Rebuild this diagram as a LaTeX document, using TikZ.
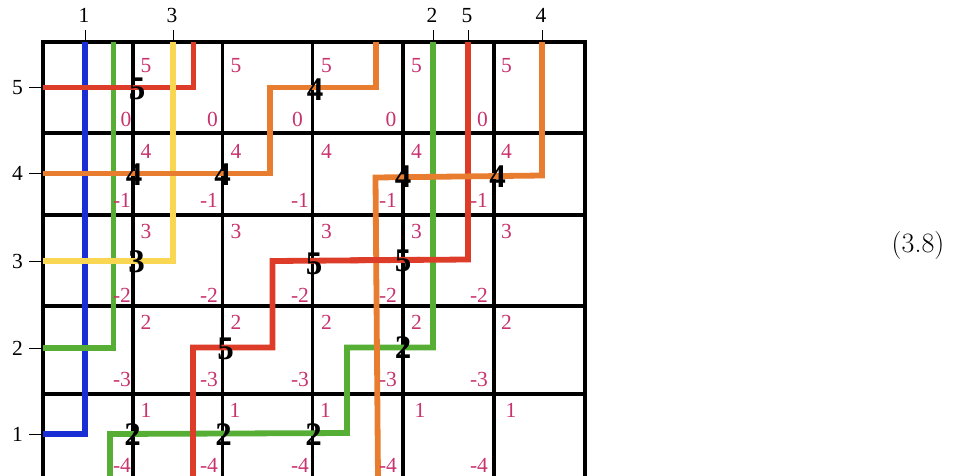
\documentclass[tikz,border=0pt]{standalone}
\usepackage{fontspec}
\newfontfamily\tms{Liberation Serif}
\definecolor{cblue}{RGB}{26,46,214}
\definecolor{cgreen}{RGB}{86,174,52}
\definecolor{cyellow}{RGB}{250,215,82}
\definecolor{cred}{RGB}{220,60,40}
\definecolor{corange}{RGB}{232,125,48}
\definecolor{cpink}{RGB}{200,50,110}
\begin{document}
\begin{tikzpicture}[x=1pt,y=-1pt,
  gridline/.style={line width=3.2pt, black, line join=miter},
  strand/.style={line width=5.8pt, line join=miter, line cap=butt},
  tickline/.style={line width=0.8pt, black},
  lab/.style={font=\tms\fontsize{21.5}{21.5}\selectfont, inner sep=0pt},
  pk/.style={lab, text=cpink},
  bnum/.style={font=\tms\bfseries\fontsize{33}{33}\selectfont, inner sep=0pt},
]
\useasboundingbox (0,0) rectangle (966,475);

% grid
\draw[gridline] (43,478) -- (43,42) -- (585,42) -- (585,478);
\foreach \x in {133,222.5,312.5,403,494}
  \draw[gridline] (\x,42) -- (\x,478);
\foreach \y in {133,215,306,394}
  \draw[gridline] (43,\y) -- (585,\y);

% left row labels and ticks
\foreach \r/\y in {5/87.5,4/173.5,3/261,2/348,1/434}{
  \coordinate (lt\r) at (43,\y);
  \coordinate (ls\r) at (29,\y);
  \draw[tickline] (ls\r) -- (lt\r);
  \node[lab] (rl\r) at (17.5,\y) {\r};
}
% top column labels and ticks
\foreach \n/\x/\t in {a/85/1,b/173/3,c/433/2,d/468/5,e/542/4}{
  \coordinate (tt\n) at (\x,42);
  \coordinate (ts\n) at (\x,30);
  \draw[tickline] (ts\n) -- (tt\n);
  \node[lab] (cl\n) at (\x-1,15.5) {\t};
}

% strands
\draw[strand, cblue] (85,42) -- (85,434) -- (43,434);
\draw[strand, cgreen] (113.5,42) -- (113.5,348) -- (43,348);
\draw[strand, cred] (43,87.5) -- (193.5,87.5) -- (193.5,42);
\draw[strand, cyellow] (173,42) -- (173,261) -- (43,261);
\draw[strand, corange] (43,173.5) -- (270,173.5) -- (270,87.5) -- (376,87.5) -- (376,42);
\draw[strand, cgreen] (433,42) -- (433,347.5) -- (347,347.5) -- (347,433) -- (110,434) -- (110,478);
\draw[strand, cred] (468,42) -- (468,259.5) -- (272.5,261) -- (272.5,347.5) -- (193,347.5) -- (193,478);
\draw[strand, corange] (542,42) -- (542,175.5) -- (375.5,177.5) -- (378,478);
\draw[strand, cred] (350,260.2) -- (420,259.7);

% pink labels
\foreach \r/\yu in {5/65.5,4/151,3/231,2/322.5}{
  \foreach \c/\xu in {1/146,2/236,3/326.5,4/416.5,5/506.5}
    \node[pk] (pu\r\c) at (\xu,\yu) {\r};
}
\foreach \c/\xu in {1/146,2/235,3/325.5,4/420,5/511}
  \node[pk] (pu1\c) at (\xu,410.5) {1};
\foreach \c/\xl in {1/126,2/212.5,3/297.5,4/391,5/482.5}
  \node[pk] (pl5\c) at (\xl,119.5) {0};
\foreach \r/\yl/\m in {4/200/-1,3/295/-2,2/379/-3,1/465/-4}{
  \foreach \c/\xl in {1/122,2/209,3/300,4/388,5/479}
    \node[pk] (pl\r\c) at (\xl,\yl) {\m};
}

% bold numbers
\node[bnum] (b51) at (137,89) {5};
\node[bnum] (b53) at (315,90) {4};
\node[bnum] (b41) at (134,174.5) {4};
\node[bnum] (b42) at (222.5,175) {4};
\node[bnum] (b44) at (403,176.5) {4};
\node[bnum] (b45) at (497.5,176.5) {4};
\node[bnum] (b31) at (136.5,262) {3};
\node[bnum] (b33) at (314,263.5) {5};
\node[bnum] (b34) at (403,261) {5};
\node[bnum] (b22) at (225.5,349) {5};
\node[bnum] (b24) at (403,347.5) {2};
\node[bnum] (b11) at (132.5,435) {2};
\node[bnum] (b12) at (223.5,435) {2};
\node[bnum] (b13) at (313.5,435) {2};

% equation number
\node[inner sep=0pt, font=\fontsize{28}{28}\selectfont] (eq) at (918,246) {(3.8)};
\end{tikzpicture}
\end{document}
